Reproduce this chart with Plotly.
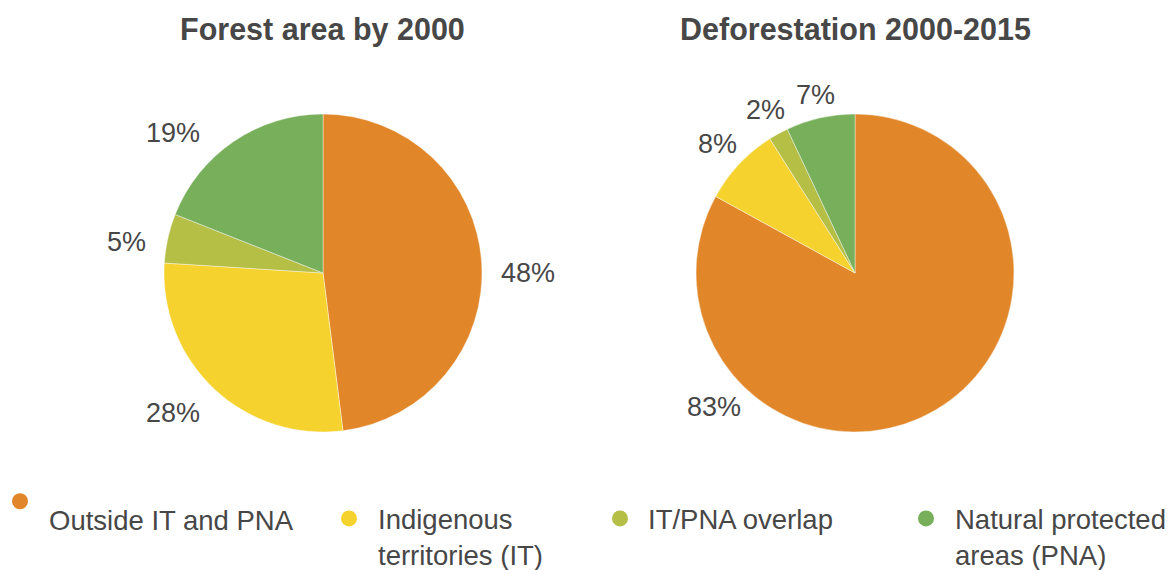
import math
import plotly.graph_objects as go

categories = ["Outside IT and PNA", "Indigenous territories (IT)", "IT/PNA overlap", "Natural protected areas (PNA)"]
legend_labels = [" <br>Outside IT and PNA", "Indigenous<br>territories (IT)", "IT/PNA overlap", "Natural protected<br>areas (PNA)"]
forest_2000 = [48, 28, 5, 19]
deforestation_2000_2015 = [83, 8, 2, 7]
titles = ["Forest area by 2000", "Deforestation 2000-2015"]
colors = ["#E1872A", "#F5D22E", "#B5BE45", "#77AF5B"]
# label placement as in the source chart (angles in degrees clockwise from 12 o'clock)
label_angle_override = {(0, 0): 90, (0, 1): 227, (0, 2): 279, (0, 3): 313, (1, 0): 226.6}
label_gap = [19, 9]

W, H = 1175, 570
FONT = "Liberation Sans, Arial, sans-serif"
TXT = "#474747"
LABEL_SIZE = 27

def px(x):
    return x / W

def py(y):
    return 1 - y / H

fig = go.Figure()

centers = [(323, 273), (855, 273)]
R = 159
for k, (vals, (cx, cy)) in enumerate(zip([forest_2000, deforestation_2000_2015], centers)):
    fig.add_trace(go.Pie(
        labels=categories, values=vals, sort=False, direction="clockwise", rotation=0,
        marker=dict(colors=colors, line=dict(color="rgba(255,255,255,0.6)", width=0.7)),
        textinfo="none",
        domain=dict(x=[px(cx - R), px(cx + R)], y=[py(cy + R), py(cy - R)]),
        showlegend=False, hoverinfo="label+value",
    ))
    total = sum(vals)
    cum = 0
    for i, v in enumerate(vals):
        mid = (cum + v / 2) / total * 360
        cum += v
        ang = label_angle_override.get((k, i), mid)
        a = math.radians(ang)
        sx, cy_ = math.sin(a), -math.cos(a)
        txt = "%d%%" % v
        half_w = (0.556 * (len(txt) - 1) + 0.889) * LABEL_SIZE / 2
        dist = R + label_gap[k] + half_w * abs(sx) + 10 * abs(cy_)
        fig.add_annotation(text=txt, x=px(cx + dist * sx), y=py(cy + dist * cy_),
                           xref="paper", yref="paper", showarrow=False,
                           xanchor="center", yanchor="middle",
                           font=dict(family=FONT, size=LABEL_SIZE, color=TXT))

for t, (cx, _) in zip(titles, centers):
    fig.add_annotation(text="<b>%s</b>" % t, x=px(cx), y=py(29), xref="paper", yref="paper",
                       showarrow=False, xanchor="center", yanchor="middle",
                       font=dict(family=FONT, size=30.5, color=TXT))

legend_names = ["legend", "legend2", "legend3", "legend4"]
marker_x = [19, 348, 620, 925]
legend_top = [459, 494, 494, 494]
for i, (lab, col) in enumerate(zip(legend_labels, colors)):
    fig.add_trace(go.Scatter(x=[None], y=[None], mode="markers", name=lab,
                             marker=dict(color=col, size=18, symbol="circle"),
                             legend=legend_names[i], showlegend=True))

layout_legends = {}
for i, ln in enumerate(legend_names):
    layout_legends[ln] = dict(
        x=px(marker_x[i] - 28), xanchor="left", y=py(legend_top[i]), yanchor="top",
        orientation="v", itemwidth=48 if i != 2 else 46, bgcolor="rgba(0,0,0,0)", borderwidth=0,
        font=dict(family=FONT, size=27.5, color=TXT),
        valign="middle" if i == 0 else "top", itemclick=False, itemdoubleclick=False,
    )

fig.update_layout(
    width=W, height=H, margin=dict(l=0, r=0, t=0, b=0, autoexpand=False),
    paper_bgcolor="white", plot_bgcolor="white",
    xaxis=dict(visible=False), yaxis=dict(visible=False),
    **layout_legends,
)

fig.write_html("out.html", config={"displayModeBar": False},
               post_script="document.body.style.margin='0px';document.body.style.overflow='hidden';")
